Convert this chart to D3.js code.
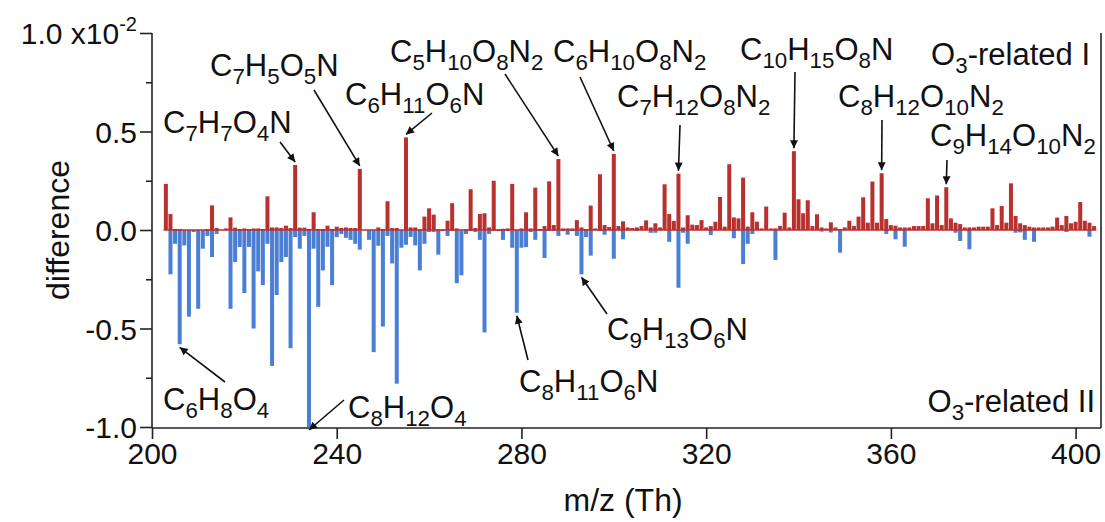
<!DOCTYPE html>
<html><head><meta charset="utf-8">
<script src="https://cdn.jsdelivr.net/npm/d3@7"></script>
<style>body{margin:0;background:#fff}svg{display:block}text{font-family:"Liberation Sans",Arial,sans-serif;fill:#111}</style>
</head><body><svg id="c" width="1105" height="522"></svg>
<script>
const mz = [203,204,205,206,207,208,209,210,211,212,213,214,215,216,217,218,219,220,221,222,223,224,225,226,227,228,229,230,231,232,233,234,235,236,237,238,239,240,241,242,243,244,245,246,247,248,249,250,251,252,253,254,255,256,257,258,259,260,261,262,263,264,265,266,267,268,269,270,271,272,273,274,275,276,277,278,279,280,281,282,283,284,285,286,287,288,289,290,291,292,293,294,295,296,297,298,299,300,301,302,303,304,305,306,307,308,309,310,311,312,313,314,315,316,317,318,319,320,321,322,323,324,325,326,327,328,329,330,331,332,333,334,335,336,337,338,339,340,341,342,343,344,345,346,347,348,349,350,351,352,353,354,355,356,357,358,359,360,361,362,363,364,365,366,367,368,369,370,371,372,373,374,375,376,377,378,379,380,381,382,383,384,385,386,387,388,389,390,391,392,393,394,395,396,397,398,399,400,401,402,403,404];
// O3-related I (positive difference), units of 1e-2
const relatedI = [0.234,0.081,0.005,0.005,0,0,0,0,0,0.004,0.125,0.01,0,0.008,0.064,0.012,0.005,0.008,0.004,0.008,0.008,0.005,0.171,0.013,0.013,0.01,0.022,0.01,0.33,0.012,0.012,0.005,0.09,0.005,0.005,0.022,0.005,0.017,0.01,0.013,0.01,0.01,0.31,0,0,0,0.013,0.005,0.146,0.01,0.01,0,0.47,0.013,0.013,0.003,0.068,0.11,0.078,0.002,0.003,0.047,0.136,0.008,0,0.003,0.207,0.01,0.081,0.085,0.013,0.25,0.003,0.006,0.008,0.234,0,0.008,0.09,0.008,0.215,0.005,0.02,0.247,0.025,0.36,0.008,0.008,0.008,0.05,0.013,0.005,0.124,0.008,0.283,0.025,0.015,0.386,0.02,0.044,0.013,0.01,0.013,0.02,0.049,0.013,0.034,0.013,0.232,0.081,0.046,0.286,0.013,0.075,0.027,0.025,0.05,0.013,0.02,0.042,0.168,0.017,0.334,0.064,0.059,0.266,0.017,0.09,0.042,0.008,0.119,0.008,0.008,0.02,0.088,0.013,0.40,0.156,0.085,0.151,0.02,0.08,0.013,0.008,0.039,0.013,0.004,0.013,0.047,0.02,0.068,0.166,0.037,0.246,0.037,0.288,0.056,0.025,0.022,0.013,0.013,0.013,0.02,0.02,0.02,0.161,0.034,0.175,0.025,0.217,0.059,0.037,0.03,0.013,0.013,0.013,0.017,0.017,0.017,0.11,0.025,0.122,0.037,0.237,0.071,0.034,0.025,0.017,0.013,0.013,0.013,0.013,0.017,0.063,0.025,0.071,0.034,0.042,0.142,0.047,0.037,0.02];
// O3-related II (negative difference)
const relatedII = [0,-0.225,-0.07,-0.58,-0.078,-0.44,-0.01,-0.40,-0.095,-0.03,-0.137,-0.02,0,0,-0.40,-0.163,-0.086,-0.32,-0.086,-0.50,-0.21,-0.28,-0.07,-0.69,-0.33,-0.163,-0.137,-0.60,-0.036,-0.095,-0.03,-1.0,-0.095,-0.39,-0.205,-0.085,-0.28,-0.036,-0.02,-0.04,-0.05,-0.07,-0.10,0,-0.05,-0.62,-0.08,-0.49,-0.03,-0.17,-0.78,-0.09,-0.075,-0.035,-0.078,-0.205,-0.07,-0.01,-0.01,-0.125,-0.005,-0.03,-0.005,-0.27,-0.23,-0.02,-0.005,-0.01,-0.05,-0.52,-0.02,-0.005,-0.005,-0.05,-0.005,-0.09,-0.42,-0.09,-0.087,-0.01,-0.05,-0.005,-0.142,-0.005,-0.005,-0.03,-0.005,-0.024,-0.005,-0.03,-0.225,-0.036,-0.13,0,-0.005,-0.024,0,-0.146,0,-0.047,0,0,-0.005,0,0,-0.014,-0.014,0,0,-0.06,0,-0.293,-0.014,-0.07,0,0,0,0,-0.025,0,0,0,0,-0.042,0,-0.173,-0.07,-0.02,0,0,0,0,-0.152,0,0,0,0,0,0,0,0,0,-0.008,0,-0.013,0,-0.115,0,0,0,0,0,0,0,0,0,-0.02,0,-0.047,0,-0.085,0,0,0,0,0,0,0,0,0,0,-0.014,-0.056,0,-0.098,0,0,0,0,0,0,0,0,0,-0.014,-0.012,-0.05,0,-0.06,0,0,0,0,0,0,-0.01,0,0,0,0,-0.034,0];
const xTicks = [200,240,280,320,360,400];
const yTicks = [-1.0,-0.5,0.0,0.5,1.0];
const yMinor = [-0.75,-0.25,0.25,0.75];
const labelI = "O3-related I", labelII = "O3-related II";
// annotated peaks: formula, m/z
const annFormula = ["C7H7O4N","C7H5O5N","C6H11O6N","C5H10O8N2","C6H10O8N2","C7H12O8N2","C10H15O8N","C8H12O10N2","C9H14O10N2","C6H8O4","C8H12O4","C8H11O6N","C9H13O6N"];
const annMz = [231,245,255,288,300,314,339,358,372,206,234,279,293];

const svg = d3.select("#c");
const L=152, R=1101, T=33, B=427;
const x = d3.scaleLinear().domain([200,405.5]).range([L,R]);
const y = d3.scaleLinear().domain([-1,1]).range([B,T]);
const bw = x(201)-x(200);
const RED="#b8312f", BLUE="#4a7fd5";
const FS = 31;

const data = mz.map((m,i)=>({m, p:relatedI[i], n:relatedII[i]}));
const g = svg.append("g");
g.selectAll(".n").data(data.filter(d=>d.n<0)).join("rect")
  .attr("x",d=>x(d.m)-bw/2+0.3).attr("width",bw-0.6)
  .attr("y",y(0)).attr("height",d=>y(d.n)-y(0)).attr("fill",BLUE);
g.selectAll(".p").data(data.filter(d=>d.p>0)).join("rect")
  .attr("x",d=>x(d.m)-bw/2+0.3).attr("width",bw-0.6)
  .attr("y",d=>y(d.p)).attr("height",d=>Math.max(1.5,y(0)-y(d.p))).attr("fill",RED);
g.append("line").attr("x1",x(202.5)).attr("x2",x(404.5)).attr("y1",y(0)).attr("y2",y(0)).attr("stroke",RED).attr("stroke-width",1.5);

// frame
const ax = svg.append("g").attr("stroke","#222").attr("stroke-width",1.6);
ax.append("line").attr("x1",L).attr("x2",L).attr("y1",T).attr("y2",B+1);
ax.append("line").attr("x1",R).attr("x2",R).attr("y1",T).attr("y2",B+1);
ax.append("line").attr("x1",L).attr("x2",R).attr("y1",B+1).attr("y2",B+1);

const yAx = d3.axisLeft(y).tickValues(yTicks).tickSize(12).tickFormat(d=>d.toFixed(1));
const ya = svg.append("g").attr("transform",`translate(${L},0)`).call(yAx);
ya.select(".domain").remove();
ya.selectAll("line").attr("stroke","#222").attr("stroke-width",1.6);
ya.selectAll("text").attr("font-size",30).attr("x",-15).attr("dy","0.35em").style("font-family","Liberation Sans, Arial").style("fill","#111");
const topLbl = ya.selectAll(".tick").filter(d=>d===1).select("text");
topLbl.text("1.0 x10");
topLbl.append("tspan").attr("font-size",20).attr("dy",-13).text("-2");
const yMin = d3.axisLeft(y).tickValues(yMinor).tickSize(6).tickFormat("");
const ym = svg.append("g").attr("transform",`translate(${L},0)`).call(yMin);
ym.select(".domain").remove(); ym.selectAll("line").attr("stroke","#222").attr("stroke-width",1.6);

const xAx = d3.axisBottom(x).tickValues(xTicks).tickSize(11).tickFormat(d3.format("d"));
const xa = svg.append("g").attr("transform",`translate(0,${B+1})`).call(xAx);
xa.select(".domain").remove();
xa.selectAll("line").attr("stroke","#222").attr("stroke-width",1.6);
xa.selectAll("text").attr("font-size",30).attr("y",15).style("font-family","Liberation Sans, Arial").style("fill","#111");

svg.append("text").attr("transform",`translate(69,${y(0)}) rotate(-90)`).attr("text-anchor","middle").attr("font-size",32).text("difference");
svg.append("text").attr("x",x(302)).attr("y",511).attr("text-anchor","middle").attr("font-size",32).text("m/z (Th)");

// formula text with subscripts
function formula(sel, str, fs){
  const parts = str.match(/\d+|[^\d]+/g);
  let sub=false;
  parts.forEach(p=>{
    const isD = /^\d+$/.test(p);
    const t = sel.append("tspan").text(p);
    if(isD){ t.attr("font-size",fs*0.72).attr("dy", sub?0:8); sub=true; }
    else { t.attr("font-size",fs).attr("dy", sub?-8:0); sub=false; }
  });
}
// layout positions of annotation text and arrow tails
const annPos = [[163,133],[210,76],[345,105],[390,62],[553,62],[617,107],[740,60],[838,107],[930,146],[163,410],[348,418],[519,392],[607,340]];
const annTail = [[280,142],[314,90],[432,113],[505,74],[580,77],[680,125],[795,72],[882,120],[947,160],[225,382],[344,400],[528,360],[607,314]];

svg.append("defs").append("marker").attr("id","ah").attr("viewBox","0 0 10 10").attr("refX",10).attr("refY",5)
  .attr("markerWidth",10).attr("markerHeight",8).attr("markerUnits","userSpaceOnUse").attr("orient","auto")
  .append("path").attr("d","M0,0L10,5L0,10z").attr("fill","#111");

annFormula.forEach((f,i)=>{
  const t = svg.append("text").attr("x",annPos[i][0]).attr("y",annPos[i][1]);
  formula(t,f,FS);
  const m = annMz[i];
  const idx = mz.indexOf(m);
  const neg = i>=9;
  const v = neg ? relatedII[idx] : relatedI[idx];
  const tx = x(m), ty = y(v) + (neg? 3 : -3);
  const [sx,sy] = annTail[i];
  svg.append("line").attr("x1",sx).attr("y1",sy).attr("x2",tx).attr("y2",ty)
    .attr("stroke","#111").attr("stroke-width",1.6).attr("marker-end","url(#ah)");
});
const tI = svg.append("text").attr("x",1090).attr("y",65).attr("text-anchor","end"); formula(tI,labelI,FS);
const tII = svg.append("text").attr("x",1095).attr("y",412).attr("text-anchor","end"); formula(tII,labelII,FS);
</script></body></html>
